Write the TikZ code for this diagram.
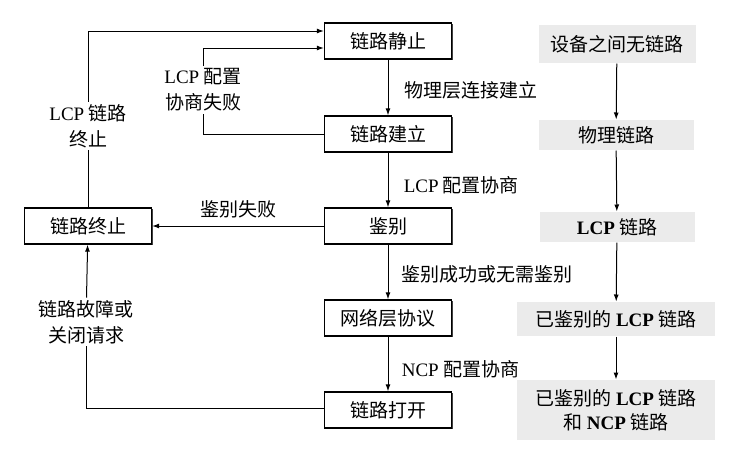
\documentclass[tikz,border=0pt]{standalone}
\usepackage{fontspec}
\setmainfont{Noto Sans CJK SC}
\newfontfamily\latin{Liberation Serif}
\newcommand{\eng}[1]{{\latin #1}}
\usetikzlibrary{arrows.meta,shadows,positioning}

\begin{document}
\begin{tikzpicture}[x=1pt,y=-1pt,line width=1pt,
	font=\fontsize{19}{26}\selectfont,
	arr/.style={-{Latex[length=7pt,width=5pt]}},
	state/.style={draw,line width=1.3pt,fill=white,minimum width=127pt,minimum height=36pt,inner sep=0pt,
		drop shadow={shadow xshift=1.2pt,shadow yshift=-1.2pt,fill=black!75,opacity=1}},
	level/.style={fill=black!8,align=center,inner sep=0pt,font=\fontsize{19}{24}\selectfont},
	lbl/.style={align=center,inner sep=2pt}]
	\useasboundingbox (0,0) rectangle (739,464);

	%STATES
	\node[state] (quiet) at (388,41) {链路静止};
	\node[state] (estab) at (388,134) {链路建立};
	\node[state] (auth) at (388,226) {鉴别};
	\node[state] (netw) at (388,318) {网络层协议};
	\node[state] (open) at (388,410) {链路打开};
	\node[state] (term) at (88,226) {链路终止};

	%MAIN PATH
	\draw[arr] (quiet) -- node[right=13pt,pos=0.55] {物理层连接建立} (estab);
	\draw[arr] (estab) -- node[right=12pt,pos=0.6] {\eng{LCP} 配置协商} (auth);
	\draw[arr] (auth) -- node[right=10pt,pos=0.55] {鉴别成功或无需鉴别} (netw);
	\draw[arr] (netw) -- node[right=10pt,pos=0.6] {\eng{NCP} 配置协商} (open);
	\draw[arr] (auth) -- node[above=4pt] {鉴别失败} (term);

	%BACK PATHS
	\node[lbl] (lcpend) at (88,126) {\eng{LCP} 链路\\终止};
	\draw (term) -- (lcpend);
	\draw[arr] (lcpend) |- ([yshift=10pt]quiet.west);
	\node[lbl] (lcpfail) at (203,90) {\eng{LCP} 配置\\协商失败};
	\draw (estab) -| (lcpfail);
	\draw[arr] (lcpfail) |- ([yshift=-7pt]quiet.west);
	\node[lbl] (fault) at (86,322) {链路故障或\\关闭请求};
	\draw ([yshift=2pt]open.west) -| (fault);
	\draw[arr] (fault) -- (term);

	%LINK LEVELS
	\node[level,minimum width=157pt,minimum height=38pt] (none) at (617,44) {设备之间无链路};
	\node[level,minimum width=155pt,minimum height=30pt] (phys) at (616,135) {物理链路};
	\node[level,minimum width=155pt,minimum height=30pt] (lcp) at (617,227) {{\latin\bfseries LCP} 链路};
	\node[level,minimum width=198pt,minimum height=34pt] (authlcp) at (616,319) {已鉴别的 {\latin\bfseries LCP} 链路};
	\node[level,minimum width=198pt,minimum height=60pt] (full) at (616,410) {已鉴别的 {\latin\bfseries LCP} 链路\\和 {\latin\bfseries NCP} 链路};
	\draw[arr] (none) -- (phys);
	\draw[arr] (phys) -- (lcp);
	\draw[arr] (lcp) -- (authlcp);
	\draw[arr] (authlcp) -- (full);
\end{tikzpicture}
\end{document}
